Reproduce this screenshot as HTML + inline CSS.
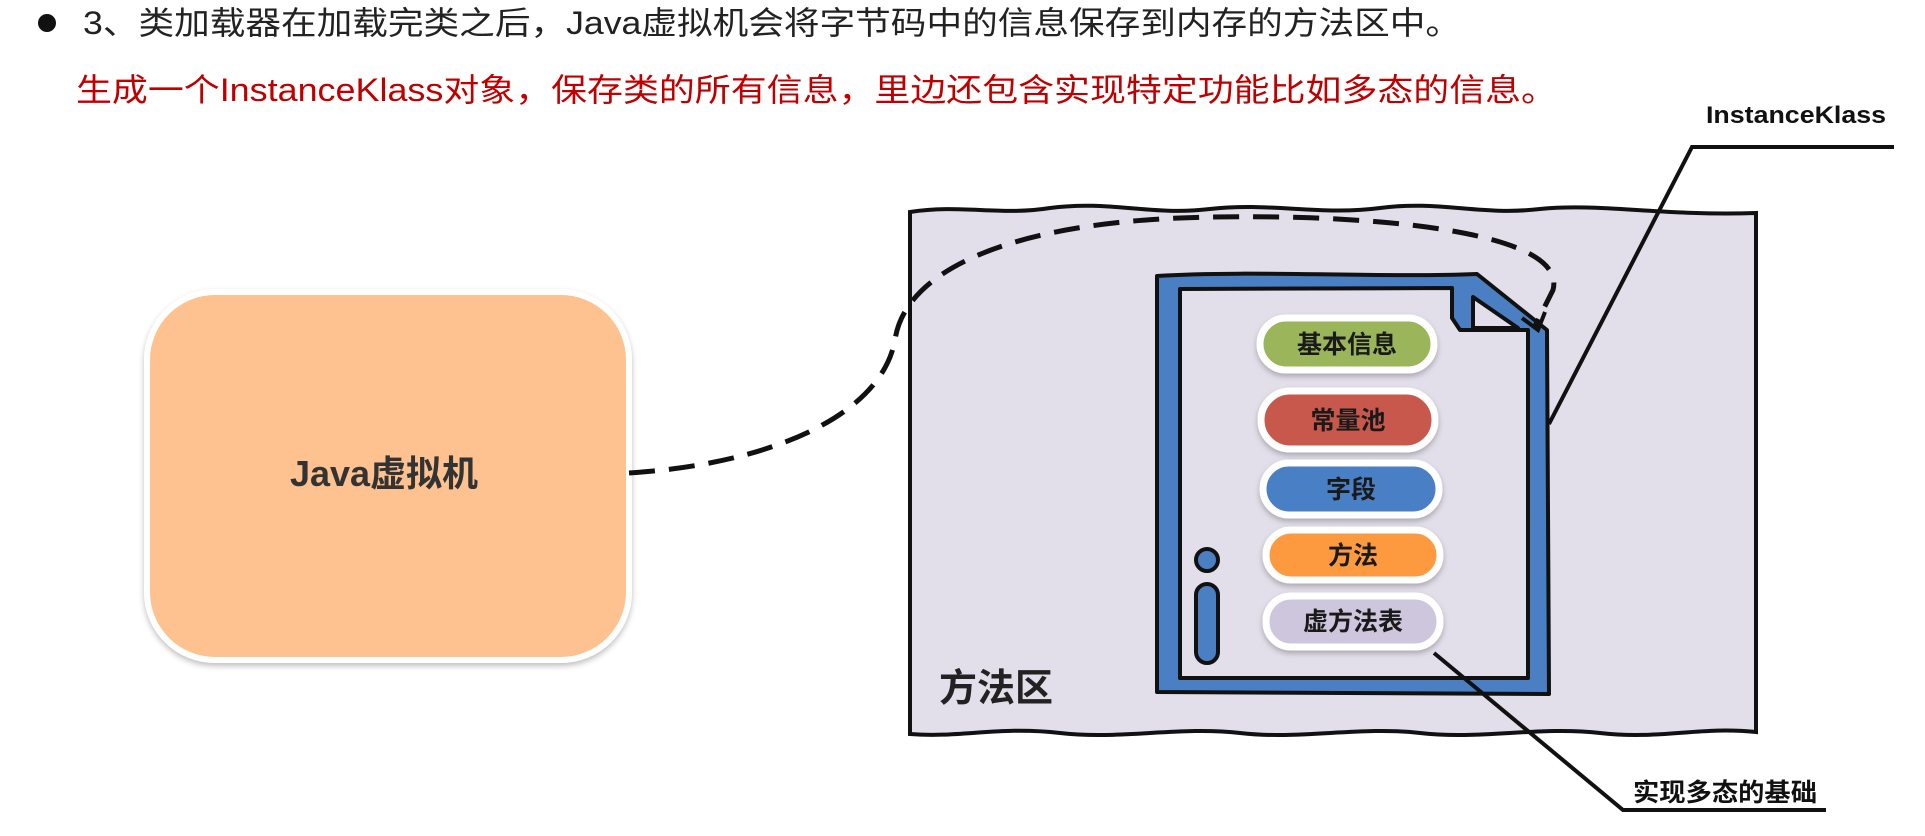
<!DOCTYPE html>
<html><head><meta charset="utf-8"><style>
html,body{margin:0;padding:0;background:#fff;width:1925px;height:836px;overflow:hidden}
svg{display:block}
text{font-family:"Liberation Sans","Noto Sans CJK SC",sans-serif}
</style></head><body>
<svg width="1925" height="836" viewBox="0 0 1925 836" xmlns="http://www.w3.org/2000/svg">
<defs>
<filter id="sh" x="-20%" y="-20%" width="140%" height="150%"><feDropShadow dx="0" dy="3" stdDeviation="3" flood-color="#000" flood-opacity="0.25"/></filter>
</defs>
<circle cx="47" cy="23" r="9" fill="#111"/>
<text x="83" y="34" font-size="32" fill="#222" textLength="1378" lengthAdjust="spacingAndGlyphs">3、类加载器在加载完类之后，Java虚拟机会将字节码中的信息保存到内存的方法区中。</text>
<text x="76" y="101" font-size="32" fill="#c00000" textLength="1481" lengthAdjust="spacingAndGlyphs">生成一个InstanceKlass对象，保存类的所有信息，里边还包含实现特定功能比如多态的信息。</text>

<rect x="147" y="292" width="482" height="368" rx="68" fill="#fdc28f" stroke="#fff" stroke-width="6" filter="url(#sh)"/>
<text x="384" y="486" font-size="36" font-weight="bold" fill="#333" text-anchor="middle">Java虚拟机</text>

<path d="M910,212 C960,204 1000,216 1050,208 C1110,200 1150,216 1210,209 C1270,202 1320,216 1380,208 C1440,200 1480,216 1540,209 C1600,203 1660,216 1756,213 L1756,732 C1700,726 1660,740 1600,733 C1540,726 1480,740 1420,733 C1360,726 1300,740 1240,733 C1180,726 1120,740 1060,733 C1000,726 960,738 910,734 Z" fill="#e2dfea" stroke="#111" stroke-width="4"/>
<text x="939" y="701" font-size="38" font-weight="bold" fill="#222">方法区</text>

<path d="M1157,276 C1250,270 1380,278 1477,274 L1547,330 L1549,694 L1157,692 Z" fill="#4a7fc4" stroke="#111" stroke-width="4" stroke-linejoin="round"/>
<path d="M1180,289 L1452,288 L1452,318 L1460,330 L1528,330 L1528,678 L1180,678 Z" fill="#e2dfea" stroke="#111" stroke-width="4" stroke-linejoin="round"/>
<path d="M1473,297 L1473,328 L1518,328 Z" fill="#e2dfea" stroke="#111" stroke-width="4" stroke-linejoin="round"/>
<circle cx="1207" cy="560" r="11" fill="#4a7fc4" stroke="#111" stroke-width="4"/>
<rect x="1196" y="584" width="22" height="79" rx="11" fill="#4a7fc4" stroke="#111" stroke-width="4"/>

<g filter="url(#sh)" stroke="#fff" stroke-width="7">
<rect x="1260" y="318" width="174" height="52" rx="26" fill="#9bb65a"/>
<rect x="1261" y="391" width="174" height="58" rx="29" fill="#c8584c"/>
<rect x="1263" y="463" width="176" height="52" rx="26" fill="#4a7fc4"/>
<rect x="1266" y="530" width="174" height="50" rx="25" fill="#fd9a40"/>
<rect x="1266" y="596" width="174" height="51" rx="25" fill="#cdc6dc"/>
</g>
<g font-size="25" font-weight="bold" fill="#1a1a1a" text-anchor="middle">
<text x="1347" y="353">基本信息</text>
<text x="1348" y="429">常量池</text>
<text x="1351" y="498">字段</text>
<text x="1353" y="564">方法</text>
<text x="1353" y="630">虚方法表</text>
</g>

<path d="M629,473 C760,465 880,420 895,340 C905,270 1010,225 1180,218 C1330,212 1570,225 1553,290 L1535,326" fill="none" stroke="#111" stroke-width="5" stroke-dasharray="26,14"/>
<path d="M1522,318 L1538,330 L1545,312" fill="none" stroke="#111" stroke-width="4"/>

<polyline points="1894,147 1692,147 1549,424" fill="none" stroke="#111" stroke-width="4"/>
<text x="1706" y="123" font-size="24" font-weight="bold" fill="#111" textLength="180" lengthAdjust="spacingAndGlyphs">InstanceKlass</text>
<polyline points="1434,653 1623,810 1826,810" fill="none" stroke="#111" stroke-width="4"/>
<text x="1633" y="801" font-size="25" font-weight="bold" fill="#111" textLength="184" lengthAdjust="spacingAndGlyphs">实现多态的基础</text>
</svg>
</body></html>
